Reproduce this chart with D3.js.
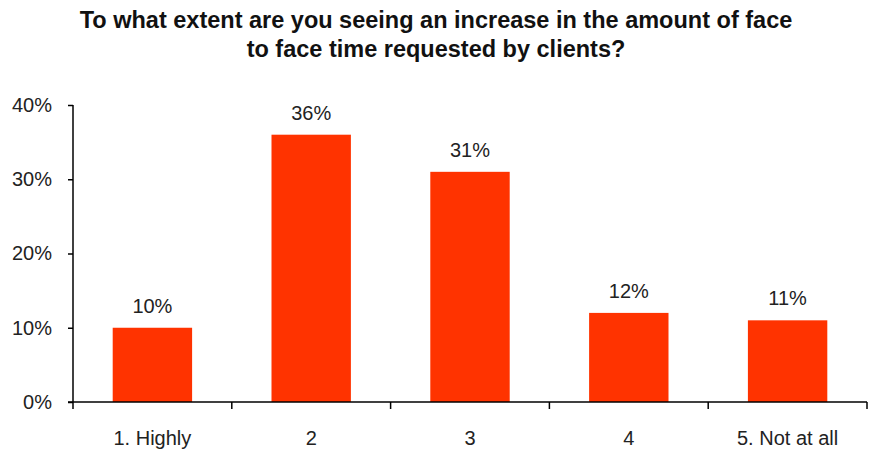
<!DOCTYPE html>
<html>
<head>
    <meta http-equiv="Content-Type" content="text/html;charset=utf8" />
    <title>Face to face time</title>
    <script src="https://d3js.org/d3.v7.min.js"></script>
    <style>
        body { margin: 0; background: #fff; font-family: "Liberation Sans", Arial, sans-serif; }
    </style>
</head>
<body>
<div id="chart"></div>
<script>
    var categories = ["1. Highly", "2", "3", "4", "5. Not at all"];
    var values = [10, 36, 31, 12, 11];
    var yTicks = [0, 10, 20, 30, 40];
    var titleLines = ["To what extent are you seeing an increase in the amount of face",
                      "to face time requested by clients?"];

    var width = 873, height = 450;
    var margin = {top: 105, right: 6, bottom: 48, left: 73};

    var svg = d3.select("#chart").append("svg")
        .attr("width", width).attr("height", height);

    var x = d3.scaleBand().domain(categories)
        .range([margin.left, width - margin.right])
        .paddingInner(0.5).paddingOuter(0.25);
    var y = d3.scaleLinear().domain([0, 40])
        .range([height - margin.bottom, margin.top]);

    // title
    svg.append("g").selectAll("text").data(titleLines).enter()
        .append("text")
        .attr("x", 436).attr("y", function(d, i) { return 28 + i * 29; })
        .attr("text-anchor", "middle")
        .attr("font-size", 23.5).attr("font-weight", "bold").attr("fill", "#111")
        .text(function(d) { return d; });

    // bars
    svg.append("g").selectAll("rect").data(values).enter()
        .append("rect")
        .attr("x", function(d, i) { return x(categories[i]); })
        .attr("y", function(d) { return y(d); })
        .attr("width", x.bandwidth())
        .attr("height", function(d) { return y(0) - y(d); })
        .attr("fill", "#ff3300");

    // value labels
    svg.append("g").selectAll("text").data(values).enter()
        .append("text")
        .attr("x", function(d, i) { return x(categories[i]) + x.bandwidth() / 2; })
        .attr("y", function(d) { return y(d) - 15; })
        .attr("text-anchor", "middle")
        .attr("font-size", 20).attr("fill", "#222")
        .text(function(d) { return d + "%"; });

    // y axis
    var yAxis = svg.append("g")
        .attr("transform", "translate(" + margin.left + ",0)")
        .call(d3.axisLeft(y).tickValues(yTicks).tickSize(5).tickPadding(16)
            .tickFormat(function(d) { return d + "%"; }));
    yAxis.select(".domain").attr("stroke", "#000").attr("stroke-width", 1.5)
        .attr("d", "M0," + y(40) + "V" + y(0));
    yAxis.selectAll(".tick line").attr("stroke", "#000").attr("stroke-width", 1.5);
    yAxis.selectAll(".tick text").attr("font-size", 20).attr("fill", "#222")
        .attr("font-family", "Liberation Sans, Arial, sans-serif");

    // x axis, ticks sit on the category boundaries
    var xg = svg.append("g").attr("transform", "translate(0," + y(0) + ")");
    var edges = d3.range(categories.length + 1).map(function(i) {
        return x(categories[0]) - x.step() * x.paddingOuter() + i * x.step();
    });
    xg.append("line")
        .attr("x1", margin.left - 5).attr("x2", width - margin.right)
        .attr("stroke", "#000").attr("stroke-width", 1.5);
    xg.selectAll(".edge").data(edges).enter()
        .append("line").attr("class", "edge")
        .attr("x1", function(d) { return d; }).attr("x2", function(d) { return d; })
        .attr("y1", 0).attr("y2", 7)
        .attr("stroke", "#000").attr("stroke-width", 1.5);
    xg.selectAll("text").data(categories).enter()
        .append("text")
        .attr("x", function(d) { return x(d) + x.bandwidth() / 2; })
        .attr("y", 43)
        .attr("text-anchor", "middle")
        .attr("font-size", 20).attr("fill", "#222")
        .text(function(d) { return d; });
</script>
</body>
</html>
